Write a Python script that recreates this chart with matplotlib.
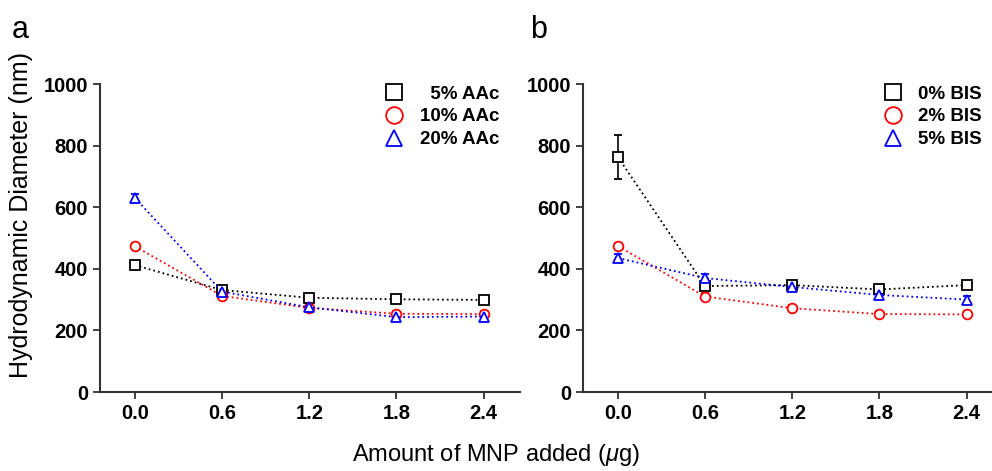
import matplotlib
matplotlib.use("Agg")
import matplotlib.pyplot as plt

plt.rcParams['font.family'] = ['Liberation Sans', 'DejaVu Sans']
plt.rcParams['mathtext.fontset'] = 'custom'
plt.rcParams['mathtext.rm'] = 'Liberation Sans'
plt.rcParams['mathtext.it'] = 'Liberation Sans:italic'

# data
mnp = [0.0, 0.6, 1.2, 1.8, 2.4]
xticklabels = ["0.0", "0.6", "1.2", "1.8", "2.4"]

aac_labels = ["\u20075% AAc", "10% AAc", "20% AAc"]
aac_5 = [412, 331, 306, 301, 299]
aac_10 = [473, 312, 273, 254, 253]
aac_20 = [630, 326, 275, 243, 245]
aac_5_err = [10, 10, 10, 10, 10]
aac_10_err = [10, 10, 10, 10, 10]
aac_20_err = [12, 12, 12, 12, 12]

bis_labels = ["0% BIS", "2% BIS", "5% BIS"]
bis_0 = [763, 344, 347, 333, 347]
bis_2 = [474, 310, 272, 253, 252]
bis_5 = [435, 370, 341, 315, 300]
bis_0_err = [72, 10, 10, 10, 10]
bis_2_err = [10, 10, 10, 10, 10]
bis_5_err = [12, 12, 12, 12, 12]

colors = ["black", "red", "blue"]
markers = ["s", "o", "^"]


def draw_panel(ax, series, errs, labels):
	for i in range(3):
		ax.errorbar(mnp, series[i], yerr=errs[i], color=colors[i], marker=markers[i],
		            markersize=7, markerfacecolor="white", markeredgewidth=1.3,
		            linestyle=":", linewidth=1.3, elinewidth=1.2, capsize=3,
		            ecolor="black" if i == 0 else colors[i])
	# legend handles with bigger markers
	handles = []
	for i in range(3):
		h, = ax.plot([], [], linestyle="none", marker=markers[i], markersize=12,
		             markerfacecolor="none", markeredgecolor=colors[i], markeredgewidth=1.3)
		handles.append(h)
	ax.legend(handles, labels, loc="upper right", bbox_to_anchor=(0.99, 1.05),
	          frameon=False, handletextpad=0.35, labelspacing=0.3,
	          prop={'weight': 'bold', 'size': 13.5})
	ax.set_xlim(-0.24, 2.65)
	ax.set_ylim(0, 1000)
	ax.set_xticks(mnp)
	ax.set_xticklabels(xticklabels)
	ax.set_yticks([0, 200, 400, 600, 800, 1000])
	for s in ["top", "right"]:
		ax.spines[s].set_visible(False)
	for s in ["left", "bottom"]:
		ax.spines[s].set_linewidth(1.5)
		ax.spines[s].set_color("#333333")
	ax.tick_params(direction="out", length=5, width=1.3, color="#333333", labelsize=14.5)
	for lab in ax.get_xticklabels() + ax.get_yticklabels():
		lab.set_fontweight("bold")


fig = plt.figure(figsize=(9.92, 4.71), dpi=100)
H = 471.0
W = 992.0
ax1 = fig.add_axes([100 / W, (H - 392) / H, 420 / W, 308 / H])
ax2 = fig.add_axes([583 / W, (H - 392) / H, 420 / W, 308 / H])

draw_panel(ax1, [aac_5, aac_10, aac_20], [aac_5_err, aac_10_err, aac_20_err], aac_labels)
draw_panel(ax2, [bis_0, bis_2, bis_5], [bis_0_err, bis_2_err, bis_5_err], bis_labels)

ax1.set_ylabel("Hydrodynamic Diameter (nm)", fontsize=18)
ax1.yaxis.set_label_coords(-0.16, 0.575)
fig.text(12 / W, 1 - 30 / H, "a", fontsize=22, va="center")
fig.text(530 / W, 1 - 30 / H, "b", fontsize=22, va="center")
fig.text(0.5, 1 - 455 / H, r"Amount of MNP added ($\mu$g)", fontsize=17, ha="center", va="center")

fig.savefig("out.png", dpi=100)
